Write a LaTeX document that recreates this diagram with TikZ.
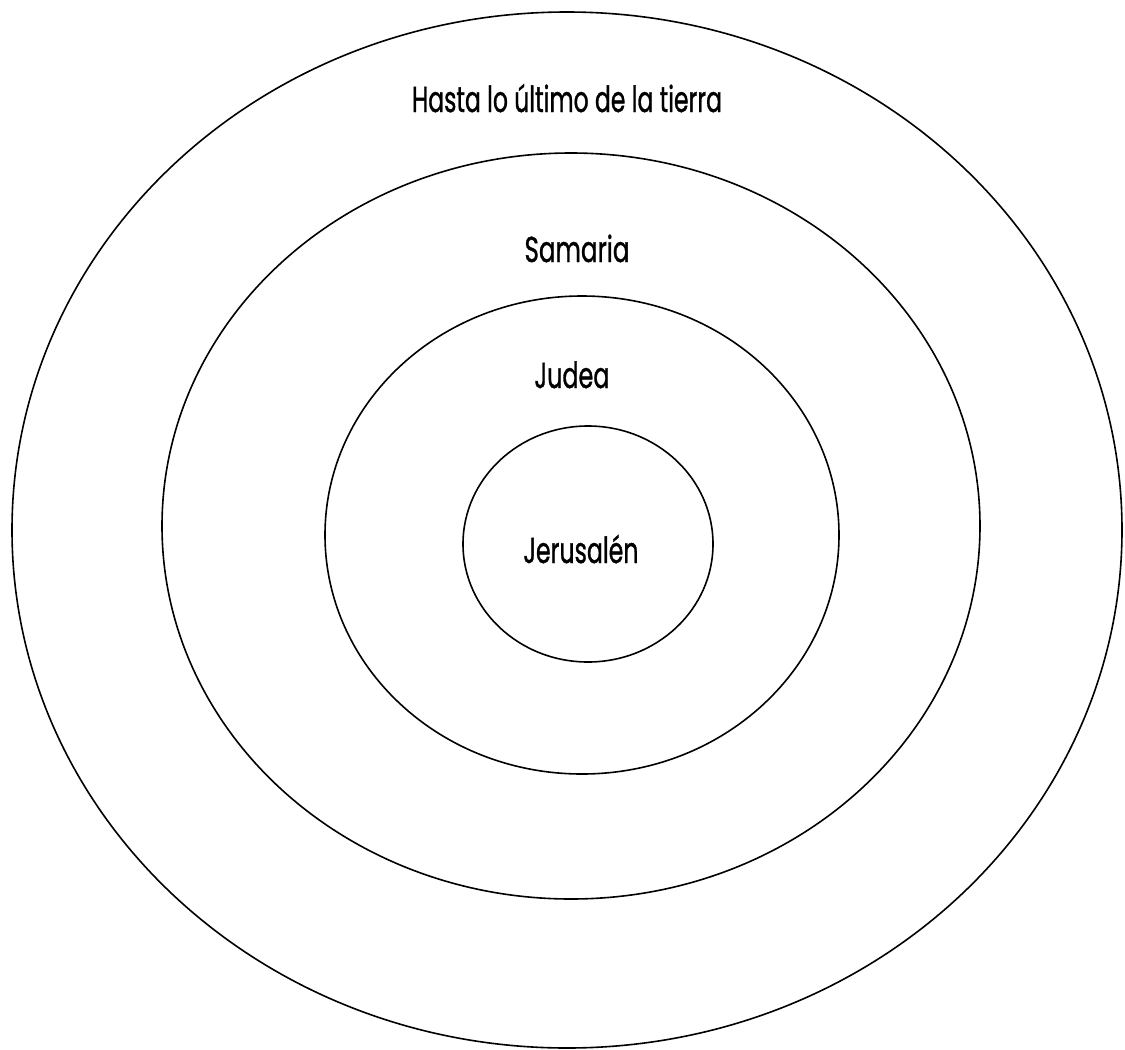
\documentclass[tikz,border=0pt]{standalone}
\usepackage{fontspec}
\usepackage{graphicx}
\setmainfont{Poppins}[FakeBold=1.2]
\newcommand\fitwd[2]{\resizebox{#1pt}{\height}{#2}}
\tikzset{
  ring/.style={draw=black, line width=1.6pt},
  lbl/.style={anchor=base, inner sep=0pt, font=\fontsize{36}{40}\selectfont}
}
\begin{document}
\begin{tikzpicture}[x=1pt,y=-1pt]
\useasboundingbox (0,0) rectangle (1125,1050);
\draw[ring] (567,530) ellipse [x radius=555, y radius=518];
\draw[ring] (571,526) ellipse [x radius=409, y radius=373];
\draw[ring] (582,535) ellipse [x radius=257, y radius=239];
\draw[ring] (588,544) ellipse [x radius=125, y radius=118];
\node[lbl] (hasta) at (567,112) {\fitwd{310}{Hasta lo último de la tierra}};
\node[lbl] (samaria) at (577,262) {\fitwd{105}{Samaria}};
\node[lbl] (judea) at (572,388) {\fitwd{75}{Judea}};
\node[lbl] (jeru) at (581,563) {\fitwd{115}{Jerusalén}};
\end{tikzpicture}
\end{document}
